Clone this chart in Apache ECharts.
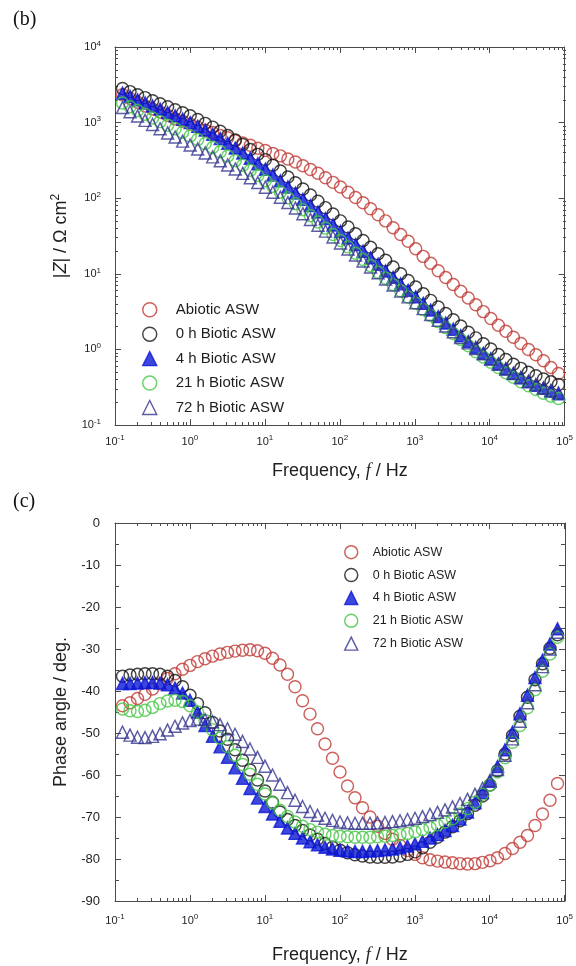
<!DOCTYPE html>
<html>
<head>
<meta charset="utf-8">
<title>EIS Bode plots – abiotic vs biotic ASW</title>
<script src="https://cdn.jsdelivr.net/npm/echarts@6/dist/echarts.min.js"></script>
<style>
  html, body { margin: 0; padding: 0; background: #ffffff; }
  #chart { width: 576px; height: 966px; }
</style>
</head>
<body>
<div id="chart"></div>
<script>
// ---- measured data -------------------------------------------------------
// frequency sweep, Hz (10 points per decade)
const freq = [
  0.1259, 0.1585, 0.1995, 0.2512, 0.3162, 0.3981, 0.5012, 0.631, 0.7943,
  1, 1.259, 1.585, 1.995, 2.512, 3.162, 3.981, 5.012, 6.31, 7.943,
  10, 12.59, 15.85, 19.95, 25.12, 31.62, 39.81, 50.12, 63.1, 79.43,
  100, 125.9, 158.5, 199.5, 251.2, 316.2, 398.1, 501.2, 631, 794.3,
  1000, 1259, 1585, 1995, 2512, 3162, 3981, 5012, 6310, 7943,
  10000, 12589, 15849, 19953, 25119, 31623, 39811, 50119, 63096, 79433
];

const seriesNames = ['Abiotic ASW', '0 h Biotic ASW', '4 h Biotic ASW', '21 h Biotic ASW', '72 h Biotic ASW'];

// impedance modulus |Z|, Ω cm²
const zAbiotic = [2340, 2090, 1860, 1660, 1510, 1380, 1250, 1120, 1040, 955,
  871, 794, 741, 676, 631, 575, 537, 501, 457, 427,
  389, 363, 331, 302, 269, 240, 214, 186, 162, 141,
  120, 102, 87.1, 72.4, 60.3, 50.1, 40.7, 33.1, 26.9, 21.4,
  17.0, 13.8, 11.0, 8.91, 7.24, 5.89, 4.79, 3.89, 3.16, 2.57,
  2.09, 1.74, 1.45, 1.20, 1.00, 0.851, 0.708, 0.575, 0.479];
const zBiotic0h = [2820, 2570, 2340, 2140, 1950, 1780, 1620, 1480, 1350, 1230,
  1100, 977, 871, 767, 676, 589, 513, 442, 380, 324,
  273, 229, 191, 160, 132, 110, 91.2, 75.0, 61.7, 50.1,
  41.7, 33.9, 27.5, 22.4, 18.4, 15.1, 12.3, 10.0, 8.13, 6.68,
  5.43, 4.45, 3.64, 2.99, 2.47, 2.04, 1.69, 1.42, 1.19, 1.01,
  0.855, 0.735, 0.638, 0.561, 0.498, 0.448, 0.406, 0.373, 0.344];
const zBiotic4h = [2450, 2220, 2000, 1820, 1660, 1510, 1360, 1230, 1110, 1000,
  891, 796, 701, 614, 533, 461, 396, 338, 286, 242,
  203, 170, 141, 117, 96.8, 79.8, 65.6, 53.7, 44.3, 36.3,
  29.7, 24.3, 19.9, 16.3, 13.4, 10.9, 8.97, 7.36, 6.04, 4.97,
  4.06, 3.32, 2.72, 2.23, 1.85, 1.52, 1.27, 1.06, 0.889, 0.750,
  0.640, 0.551, 0.479, 0.421, 0.374, 0.336, 0.305, 0.280, 0.259];
const zBiotic21h = [1820, 1620, 1450, 1290, 1150, 1030, 925, 830, 745, 667,
  596, 530, 469, 412, 361, 314, 272, 234, 200, 170,
  144, 121, 101, 84.7, 70.5, 58.5, 48.5, 40.2, 33.2, 27.5,
  22.7, 18.7, 15.5, 12.8, 10.5, 8.71, 7.19, 5.96, 4.92, 4.07,
  3.38, 2.81, 2.33, 1.94, 1.62, 1.35, 1.12, 0.933, 0.794, 0.676,
  0.575, 0.490, 0.427, 0.372, 0.331, 0.295, 0.263, 0.240, 0.224];
const zBiotic72h = [1580, 1390, 1220, 1070, 944, 828, 730, 644, 569, 505,
  448, 397, 352, 312, 275, 243, 213, 186, 161, 140,
  120, 103, 87.5, 74.0, 62.4, 52.4, 44.0, 36.7, 30.7, 25.6,
  21.3, 17.7, 14.8, 12.3, 10.3, 8.55, 7.13, 5.94, 4.95, 4.14,
  3.46, 2.90, 2.43, 2.04, 1.71, 1.44, 1.22, 1.03, 0.875, 0.746,
  0.640, 0.553, 0.483, 0.426, 0.379, 0.342, 0.311, 0.287, 0.267];

// phase angle, degrees
const phaseAbiotic = [-43.5, -42.8, -41.8, -40.8, -39.5, -38.3, -37.0, -35.9, -34.8, -33.9,
  -33.0, -32.3, -31.7, -31.2, -30.8, -30.5, -30.3, -30.2, -30.4, -31.0,
  -32.2, -33.8, -36.0, -39.0, -42.3, -45.5, -49.0, -52.6, -56.0, -59.3,
  -62.6, -65.4, -67.8, -70.0, -72.2, -73.9, -75.3, -76.8, -78.0, -78.9,
  -79.7, -80.2, -80.5, -80.7, -80.9, -81.1, -81.2, -81.1, -80.8, -80.4,
  -79.7, -78.7, -77.5, -76.0, -74.4, -72.0, -69.3, -66.0, -62.0];
const phaseBiotic0h = [-36.5, -36.2, -36.0, -35.9, -35.9, -36.0, -36.5, -37.5, -39.0, -41.0,
  -43.0, -45.2, -47.5, -49.5, -51.5, -54.0, -56.5, -58.8, -61.2, -63.8,
  -66.5, -68.8, -70.6, -72.0, -73.2, -74.3, -75.3, -76.3, -77.2, -77.9,
  -78.5, -79.0, -79.3, -79.5, -79.6, -79.6, -79.5, -79.3, -78.9, -78.3,
  -77.3, -76.0, -74.8, -73.6, -72.3, -70.9, -69.2, -67.2, -65.0, -62.4,
  -59.0, -55.0, -50.6, -46.0, -41.5, -37.3, -33.5, -29.8, -26.6];
const phaseBiotic4h = [-38.2, -38.2, -38.1, -38.0, -38.0, -38.1, -38.5, -39.3, -40.5, -42.2,
  -45.0, -48.2, -50.8, -53.3, -55.8, -58.3, -60.8, -63.2, -65.5, -67.5,
  -69.3, -71.0, -72.6, -73.9, -75.0, -75.9, -76.6, -77.2, -77.6, -77.9,
  -78.1, -78.2, -78.2, -78.1, -78.0, -77.8, -77.6, -77.3, -76.9, -76.4,
  -75.8, -75.0, -74.2, -73.2, -72.0, -70.5, -68.8, -66.6, -64.2, -61.5,
  -58.0, -54.0, -49.8, -45.4, -41.0, -36.8, -32.7, -28.8, -25.2];
const phaseBiotic21h = [-44.3, -44.7, -44.9, -44.6, -43.9, -43.0, -42.4, -42.2, -42.5, -43.5,
  -45.0, -47.0, -49.2, -51.2, -53.2, -55.3, -57.5, -59.8, -62.2, -64.5,
  -66.6, -68.4, -69.9, -71.2, -72.2, -73.0, -73.6, -74.1, -74.4, -74.6,
  -74.7, -74.8, -74.8, -74.8, -74.7, -74.6, -74.4, -74.2, -73.9, -73.5,
  -73.0, -72.5, -71.9, -71.2, -70.4, -69.3, -68.0, -66.5, -64.6, -62.3,
  -59.3, -55.9, -52.2, -48.2, -44.0, -39.7, -35.3, -31.2, -27.2];
const phaseBiotic72h = [-49.8, -50.5, -51.0, -51.1, -50.8, -50.2, -49.3, -48.4, -47.6, -47.0,
  -46.7, -46.8, -47.3, -48.0, -49.0, -50.3, -52.0, -53.8, -55.8, -57.9,
  -60.0, -62.2, -64.2, -66.0, -67.5, -68.7, -69.6, -70.3, -70.8, -71.2,
  -71.4, -71.5, -71.5, -71.5, -71.4, -71.3, -71.1, -70.9, -70.6, -70.3,
  -69.9, -69.4, -68.9, -68.3, -67.6, -66.8, -65.8, -64.6, -63.2, -61.3,
  -58.7, -55.3, -51.4, -47.2, -42.8, -38.5, -34.2, -30.0, -26.0];

// axis ranges and tick labels
const freqRange = [0.1, 100000];
const freqExponents = [-1, 5];          // decades labelled 10^-1 … 10^5
const zRange = [0.1, 10000];
const zExponents = [-1, 4];             // decades labelled 10^-1 … 10^4
const phaseRange = [-90, 0];
const phaseStep = 10;
const minorMultipliers = [2, 3, 4, 5, 6, 7, 8, 9];

// ---- styling -------------------------------------------------------------
const SANS = '"Liberation Sans", Arial, sans-serif';
const SERIF = '"Liberation Serif", "Times New Roman", serif';
const INK = '#1e1e1e';
const AXIS = '#4a4a4a';

const markerStyles = [
  { symbol: 'circle',   size: 12, fill: 'rgba(0,0,0,0)', stroke: '#bf3a35' },
  { symbol: 'circle',   size: 12, fill: 'rgba(0,0,0,0)', stroke: '#141414' },
  { symbol: 'triangle', size: 12, fill: '#0c18d4',       stroke: '#0c18d4' },
  { symbol: 'circle',   size: 12, fill: 'rgba(0,0,0,0)', stroke: '#44c644' },
  { symbol: 'triangle', size: 12, fill: 'rgba(0,0,0,0)', stroke: '#34348e' }
];
const markerLineWidth = 1.45;

const gridTop = { left: 115, top: 47, width: 451, height: 378 };
const gridBottom = { left: 115, top: 523, width: 450, height: 378 };

// ---- helpers ---------------------------------------------------------------
const pairs = (ys) => freq.map((f, i) => [f, ys[i]]);

const minorPositions = (lo, hi) => {
  const out = [];
  for (let e = lo; e < hi; e++) {
    minorMultipliers.forEach(m => out.push(e + Math.log10(m)));
  }
  return out;
};

const powRich = {
  b: { fontSize: 11, fontFamily: SANS, color: INK, lineHeight: 15 },
  s: { fontSize: 8, fontFamily: SANS, color: INK, lineHeight: 9, verticalAlign: 'top' }
};
const powLabel = (v) => '{b|10}{s|' + v + '}';

const tickLine = { color: AXIS, width: 1 };
const noSplit = { show: false };

// log-decade axis (values in exponent units) used only for frame, ticks and labels
function decadeAxis(gridIndex, position, range, opts) {
  return Object.assign({
    type: 'value', gridIndex, position,
    min: range[0], max: range[1], interval: 1,
    axisLine: { show: true, onZero: false, lineStyle: { color: AXIS, width: 1 } },
    axisTick: { show: true, inside: true, length: 6, lineStyle: tickLine },
    axisLabel: { show: false },
    splitLine: noSplit
  }, opts || {});
}
function minorAxis(gridIndex, position, range) {
  return {
    type: 'value', gridIndex, position,
    min: range[0], max: range[1],
    axisLine: { show: false, onZero: false },
    axisTick: { show: true, inside: true, length: 3, lineStyle: tickLine,
                customValues: minorPositions(range[0], range[1]) },
    axisLabel: { show: false },
    splitLine: noSplit
  };
}
const hiddenValueAxis = (gridIndex) => ({ type: 'value', gridIndex, show: false, min: 0, max: 1 });

const freqTitle = (gap) => ({
  name: '{n|Frequency, }{i|f}{n| / Hz}',
  nameLocation: 'middle', nameGap: gap,
  nameTextStyle: { rich: {
    n: { fontSize: 18, fontFamily: SANS, color: INK },
    i: { fontSize: 18, fontFamily: SERIF, fontStyle: 'italic', color: INK }
  } }
});

// ---- axes ------------------------------------------------------------------
const xAxes = [
  // 0: |Z| panel data axis
  { type: 'log', logBase: 10, gridIndex: 0, min: freqRange[0], max: freqRange[1], show: false },
  // 1–2: |Z| panel frame + decade ticks
  decadeAxis(1, 'bottom', freqExponents, Object.assign({
    axisLabel: { show: true, margin: 9, formatter: powLabel, rich: powRich }
  }, freqTitle(37))),
  decadeAxis(1, 'top', freqExponents),
  // 3–4: |Z| panel minor ticks
  minorAxis(2, 'bottom', freqExponents),
  minorAxis(2, 'top', freqExponents),
  // 5: phase panel data axis
  { type: 'log', logBase: 10, gridIndex: 3, min: freqRange[0], max: freqRange[1], show: false },
  // 6–7: phase panel frame + decade ticks
  decadeAxis(4, 'bottom', freqExponents, Object.assign({
    axisLabel: { show: true, margin: 12, formatter: powLabel, rich: powRich }
  }, freqTitle(45))),
  decadeAxis(4, 'top', freqExponents),
  // 8–9: phase panel minor ticks
  minorAxis(5, 'bottom', freqExponents),
  minorAxis(5, 'top', freqExponents)
];

const yAxes = [
  // 0: |Z| data axis
  { type: 'log', logBase: 10, gridIndex: 0, min: zRange[0], max: zRange[1], show: false },
  // 1–2: |Z| frame + decade ticks
  decadeAxis(1, 'left', zExponents, {
    axisLabel: { show: true, margin: 14, formatter: powLabel, rich: powRich },
    name: '{n||}{i|Z}{n|| / Ω cm}{s|2}',
    nameLocation: 'middle', nameGap: 43,
    nameTextStyle: { rich: {
      n: { fontSize: 18, fontFamily: SANS, color: INK, lineHeight: 22 },
      i: { fontSize: 18, fontFamily: SANS, fontStyle: 'italic', color: INK, lineHeight: 22 },
      s: { fontSize: 12, fontFamily: SANS, color: INK, lineHeight: 12, verticalAlign: 'top' }
    } }
  }),
  decadeAxis(1, 'right', zExponents),
  // 3–4: |Z| minor ticks
  minorAxis(2, 'left', zExponents),
  minorAxis(2, 'right', zExponents),
  // 5: phase data axis (left, labelled)
  {
    type: 'value', gridIndex: 3, position: 'left',
    min: phaseRange[0], max: phaseRange[1], interval: phaseStep,
    axisLine: { show: true, onZero: false, lineStyle: { color: AXIS, width: 1 } },
    axisTick: { show: true, inside: true, length: 6, lineStyle: tickLine },
    minorTick: { show: true, splitNumber: 2, length: 4, lineStyle: tickLine },
    axisLabel: { show: true, margin: 15, fontSize: 13, fontFamily: SANS, color: INK },
    splitLine: noSplit,
    name: 'Phase angle / deg.',
    nameLocation: 'middle', nameGap: 44,
    nameTextStyle: { fontSize: 18, fontFamily: SANS, color: INK }
  },
  // 6: phase right frame
  {
    type: 'value', gridIndex: 3, position: 'right',
    min: phaseRange[0], max: phaseRange[1], interval: phaseStep,
    axisLine: { show: true, onZero: false, lineStyle: { color: AXIS, width: 1 } },
    axisTick: { show: true, inside: true, length: 6, lineStyle: tickLine },
    minorTick: { show: true, splitNumber: 2, length: 4, lineStyle: tickLine },
    axisLabel: { show: false },
    splitLine: noSplit
  },
  // 7–8: placeholders for the tick-only grids
  hiddenValueAxis(4),
  hiddenValueAxis(5)
];

// ---- series ------------------------------------------------------------------
const zSets = [zAbiotic, zBiotic0h, zBiotic4h, zBiotic21h, zBiotic72h];
const phaseSets = [phaseAbiotic, phaseBiotic0h, phaseBiotic4h, phaseBiotic21h, phaseBiotic72h];

function scatter(i, values, xIdx, yIdx) {
  const st = markerStyles[i];
  return {
    type: 'scatter', name: seriesNames[i],
    xAxisIndex: xIdx, yAxisIndex: yIdx,
    symbol: st.symbol, symbolSize: st.size,
    itemStyle: { color: st.fill, borderColor: st.stroke, borderWidth: markerLineWidth },
    emphasis: { disabled: true },
    data: pairs(values)
  };
}

const series = [];
zSets.forEach((vals, i) => series.push(scatter(i, vals, 0, 0)));
phaseSets.forEach((vals, i) => series.push(scatter(i, vals, 5, 5)));

// ---- legends ---------------------------------------------------------------------
// icon is a square box so triangles and circles keep their shape; text is pushed right by padding
function legendBlock(left, top, fontSize, iconSize, gap, textIndent) {
  return {
    data: seriesNames.map((name, i) => ({ name, icon: markerStyles[i].symbol })),
    orient: 'vertical', left, top,
    itemWidth: iconSize, itemHeight: iconSize, itemGap: gap, padding: 5,
    selectedMode: false,
    itemStyle: { borderWidth: markerLineWidth },
    textStyle: { fontSize, fontFamily: SANS, color: INK, lineHeight: iconSize, padding: [0, 0, 0, textIndent] }
  };
}

const option = {
  backgroundColor: '#ffffff',
  animation: false,
  grid: [
    Object.assign({ containLabel: false }, gridTop),
    Object.assign({ containLabel: false }, gridTop),
    Object.assign({ containLabel: false }, gridTop),
    Object.assign({ containLabel: false }, gridBottom),
    Object.assign({ containLabel: false }, gridBottom),
    Object.assign({ containLabel: false }, gridBottom)
  ],
  xAxis: xAxes,
  yAxis: yAxes,
  legend: [
    legendBlock(137, 297, 15, 14, 9, 14),
    legendBlock(339, 540, 12.5, 13, 8.4, 10)
  ],
  graphic: [
    { type: 'text', left: 13, top: 10, style: { text: '(b)', font: '20px ' + SERIF, fill: '#111' } },
    { type: 'text', left: 13, top: 492, style: { text: '(c)', font: '20px ' + SERIF, fill: '#111' } }
  ],
  series
};

const chart = echarts.init(document.getElementById('chart'));
chart.setOption(option);
</script>
</body>
</html>
